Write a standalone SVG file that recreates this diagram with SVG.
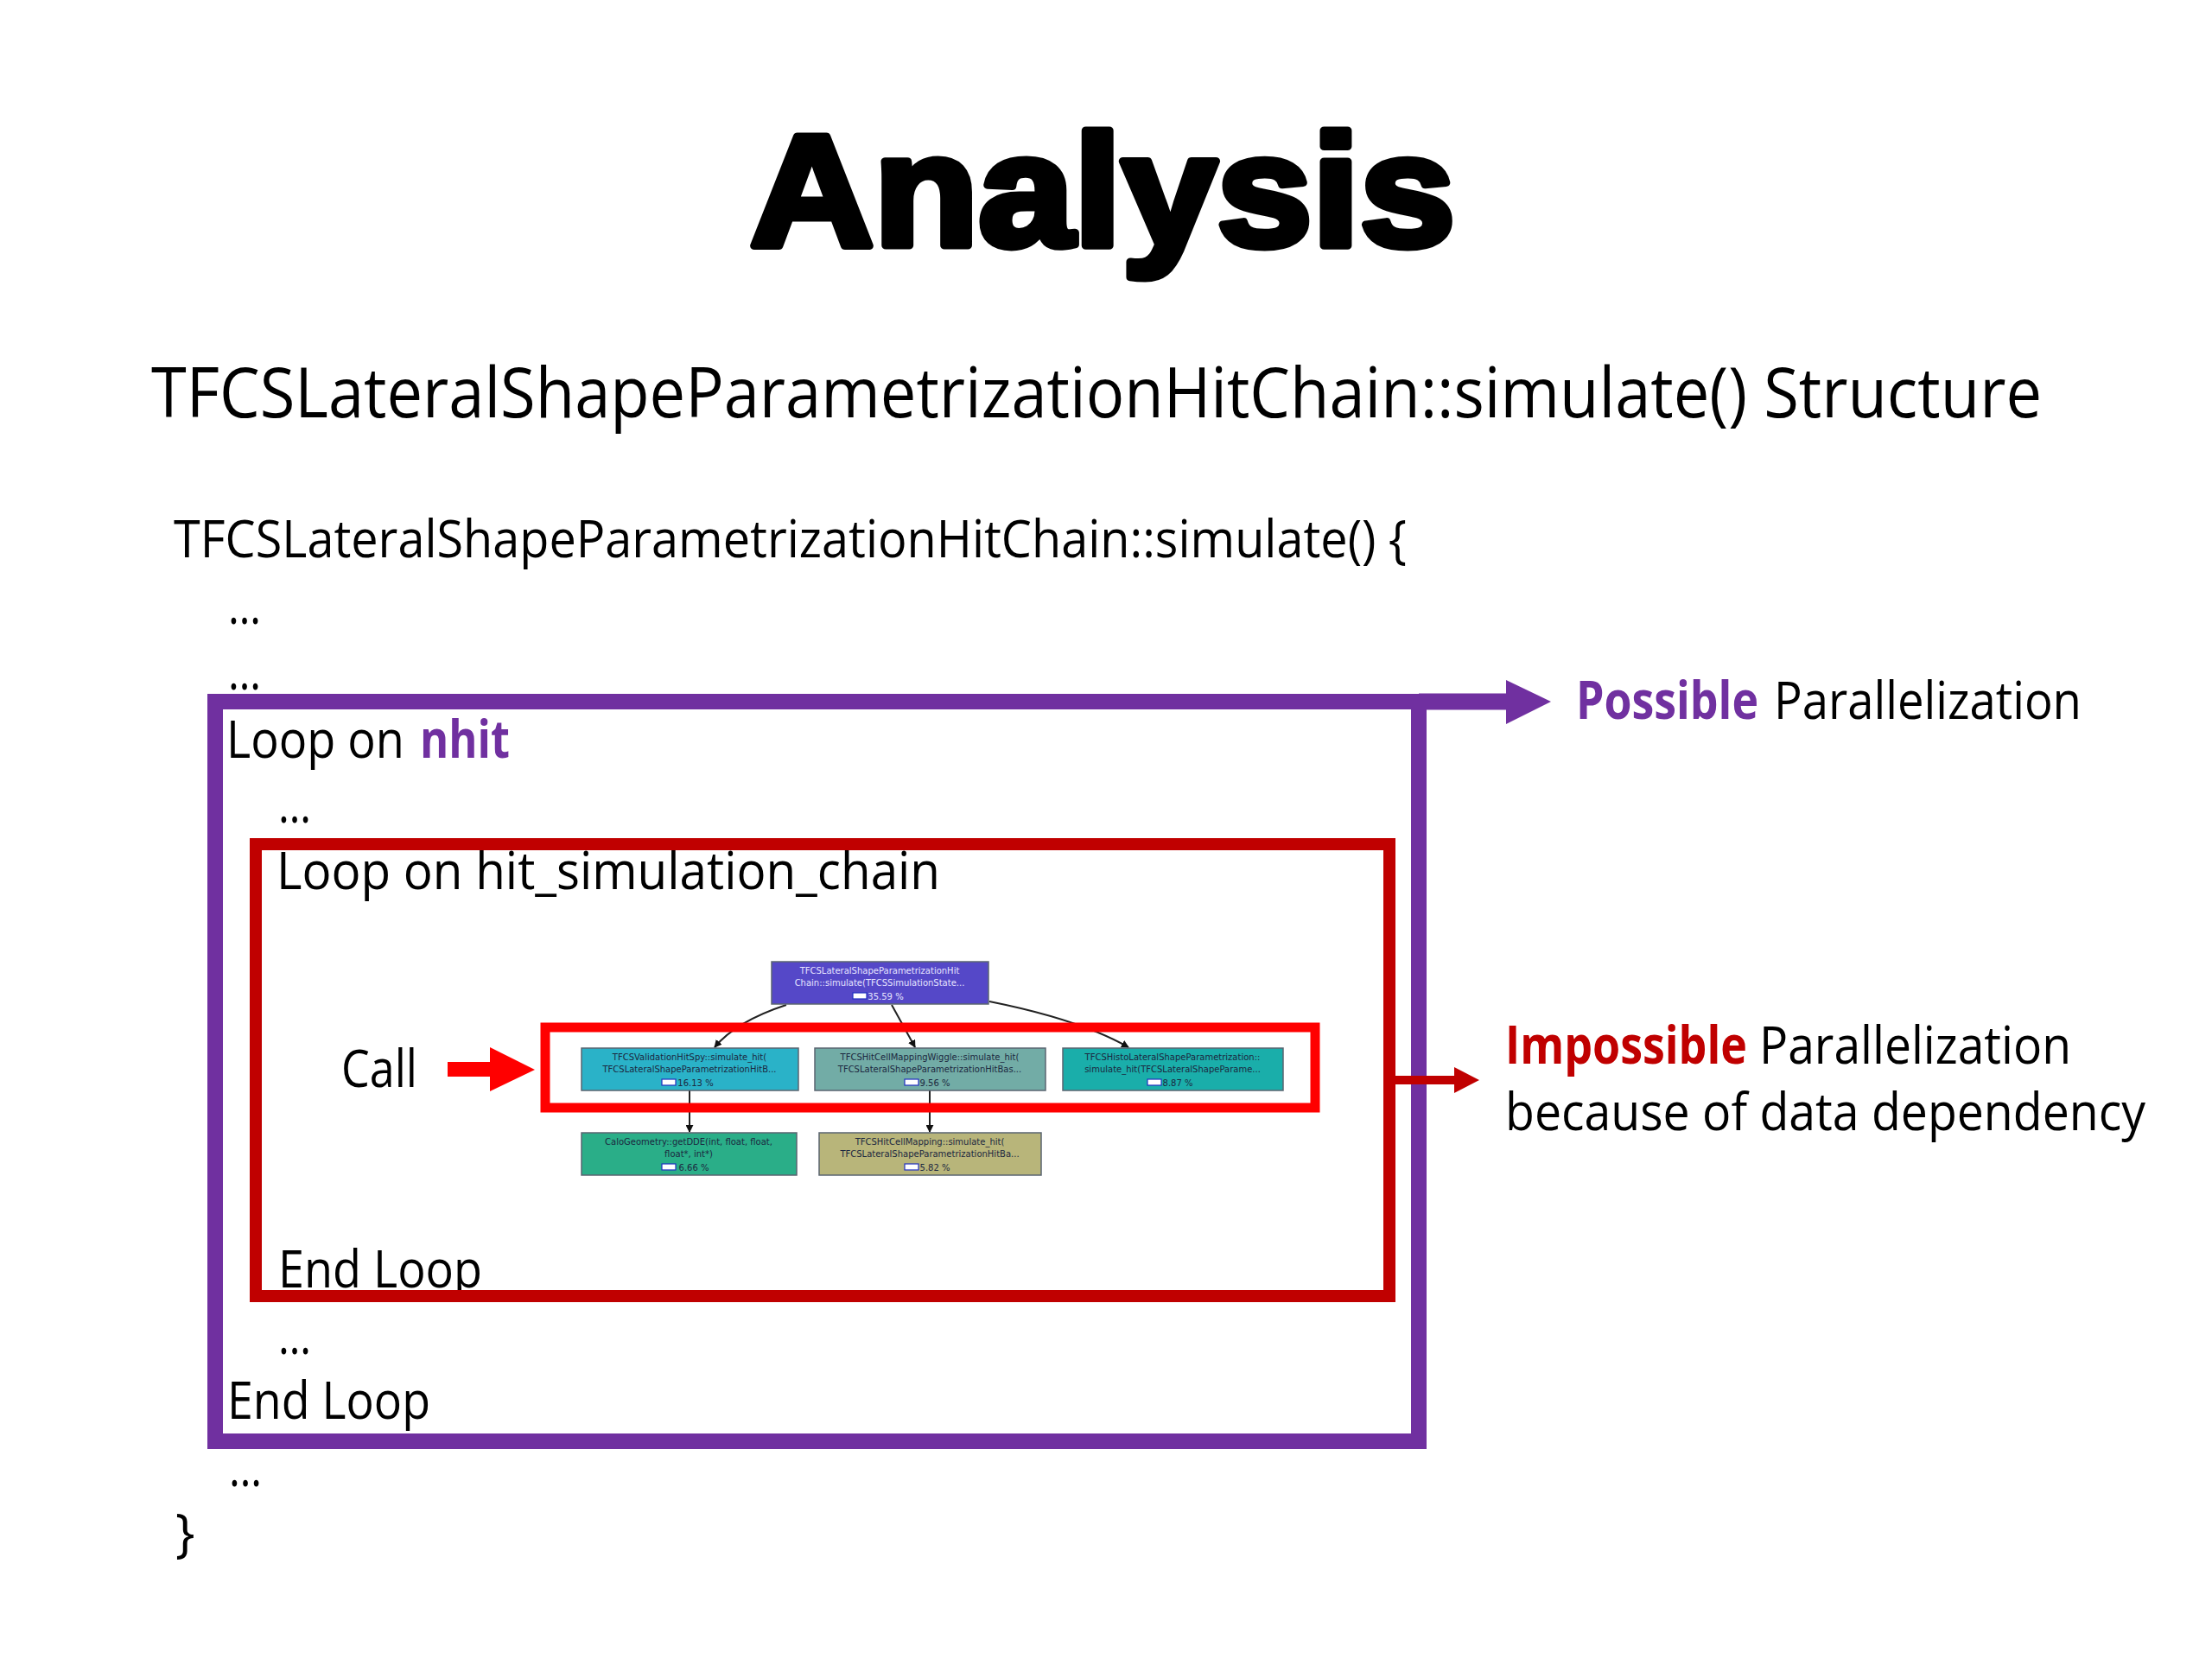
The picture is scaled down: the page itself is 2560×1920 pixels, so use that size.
<svg xmlns="http://www.w3.org/2000/svg" width="2560" height="1920" viewBox="0 0 2560 1920">
<defs>
<style>
.t{font-family:"Open Sans","Liberation Sans",sans-serif;font-size:60px;fill:#000}
.b{font-weight:bold}
.pu{fill:#7030a0}
.dr{fill:#c00000}
.n{font-family:"DejaVu Sans","Liberation Sans",sans-serif;font-size:10px;text-anchor:middle;fill:#1c2840}
.nw{fill:#e6e4ff}
.box{stroke:#5a6470;stroke-width:1.5}
.bar{fill:#fff;stroke:#2030c0;stroke-width:1.2}
.e{fill:none;stroke:#222;stroke-width:2}
</style>
<marker id="ah" viewBox="0 0 10 10" refX="9" refY="5" markerWidth="9" markerHeight="9" markerUnits="userSpaceOnUse" orient="auto">
<path d="M0,0 L10,5 L0,10 z" fill="#111"/>
</marker>
</defs>
<rect width="2560" height="1920" fill="#fff"/>

<text x="868" y="284" font-family="'Liberation Sans',Arial,sans-serif" font-weight="bold" font-size="184" stroke="#000" stroke-width="9" stroke-linejoin="round" textLength="816" lengthAdjust="spacingAndGlyphs">Analysis</text>
<text class="t" x="175" y="483" style="font-size:80px" textLength="2188" lengthAdjust="spacingAndGlyphs">TFCSLateralShapeParametrizationHitChain::simulate() Structure</text>

<g id="code">
<text class="t" x="201" y="645" textLength="1427" lengthAdjust="spacingAndGlyphs">TFCSLateralShapeParametrizationHitChain::simulate() {</text>
<text class="t" x="264" y="722" textLength="38" lengthAdjust="spacingAndGlyphs">…</text>
<text class="t" x="264" y="798" textLength="38" lengthAdjust="spacingAndGlyphs">…</text>
<text class="t" x="262" y="877" textLength="206" lengthAdjust="spacingAndGlyphs">Loop on</text>
<text class="t b pu" x="486" y="877" textLength="104" lengthAdjust="spacingAndGlyphs">nhit</text>
<text class="t" x="322" y="952" textLength="38" lengthAdjust="spacingAndGlyphs">…</text>
<text class="t" x="320" y="1029" textLength="768" lengthAdjust="spacingAndGlyphs">Loop on hit_simulation_chain</text>
<text class="t" x="395" y="1258" textLength="88" lengthAdjust="spacingAndGlyphs">Call</text>
<text class="t" x="322" y="1490" textLength="236" lengthAdjust="spacingAndGlyphs">End Loop</text>
<text class="t" x="322" y="1567" textLength="38" lengthAdjust="spacingAndGlyphs">…</text>
<text class="t" x="263" y="1642" textLength="235" lengthAdjust="spacingAndGlyphs">End Loop</text>
<text class="t" x="265" y="1720" textLength="38" lengthAdjust="spacingAndGlyphs">…</text>
<text class="t" x="203" y="1795">}</text>
</g>

<g id="loop-nhit">
<rect x="249" y="812" width="1393" height="856" fill="none" stroke="#7030a0" stroke-width="18"/>
</g>
<g id="loop-chain">
<rect x="296" y="977" width="1312" height="523" fill="none" stroke="#c00000" stroke-width="14"/>
</g>

<g id="connectors">
<line x1="1642" y1="812" x2="1750" y2="812" stroke="#7030a0" stroke-width="19"/>
<polygon points="1743,787 1795,812 1743,838" fill="#7030a0"/>
<line x1="1608" y1="1250" x2="1690" y2="1250" stroke="#c00000" stroke-width="10"/>
<polygon points="1683,1235 1712,1250 1683,1265" fill="#c00000"/>
<rect x="518" y="1229" width="52" height="17" fill="#ff0000"/>
<polygon points="567,1212 619,1238 567,1263" fill="#ff0000"/>
<path class="e" d="M910,1163 Q852,1182 827,1212" marker-end="url(#ah)"/>
<path class="e" d="M1032,1163 L1059,1212" marker-end="url(#ah)"/>
<path class="e" d="M1145,1159 Q1250,1180 1306,1212" marker-end="url(#ah)"/>
<path class="e" d="M798,1262 L798,1310" marker-end="url(#ah)"/>
<path class="e" d="M1076,1262 L1076,1310" marker-end="url(#ah)"/>
</g>

<g id="node-top">
<rect class="box" x="893" y="1113" width="251" height="49" fill="#5548c8"/>
<text class="n nw" x="1018" y="1127">TFCSLateralShapeParametrizationHit</text>
<text class="n nw" x="1018" y="1141">Chain::simulate(TFCSSimulationState...</text>
<rect class="bar" x="987" y="1149" width="16" height="7"/>
<text class="n nw" x="1025" y="1157">35.59 %</text>
</g>
<g id="node-validation">
<rect class="box" x="673" y="1213" width="251" height="49" fill="#2ab2c8"/>
<text class="n" x="798" y="1227">TFCSValidationHitSpy::simulate_hit(</text>
<text class="n" x="798" y="1241">TFCSLateralShapeParametrizationHitB...</text>
<rect class="bar" x="766" y="1249" width="16" height="7"/>
<text class="n" x="805" y="1257">16.13 %</text>
</g>
<g id="node-wiggle">
<rect class="box" x="943" y="1213" width="267" height="49" fill="#72aca6"/>
<text class="n" x="1076" y="1227">TFCSHitCellMappingWiggle::simulate_hit(</text>
<text class="n" x="1076" y="1241">TFCSLateralShapeParametrizationHitBas...</text>
<rect class="bar" x="1047" y="1249" width="16" height="7"/>
<text class="n" x="1082" y="1257">9.56 %</text>
</g>
<g id="node-histo">
<rect class="box" x="1230" y="1213" width="255" height="49" fill="#1aaeaa"/>
<text class="n" x="1357" y="1227">TFCSHistoLateralShapeParametrization::</text>
<text class="n" x="1357" y="1241">simulate_hit(TFCSLateralShapeParame...</text>
<rect class="bar" x="1328" y="1249" width="16" height="7"/>
<text class="n" x="1363" y="1257">8.87 %</text>
</g>
<g id="node-calogeo">
<rect class="box" x="673" y="1311" width="249" height="49" fill="#2aae88"/>
<text class="n" x="797" y="1325">CaloGeometry::getDDE(int, float, float,</text>
<text class="n" x="797" y="1339">float*, int*)</text>
<rect class="bar" x="766" y="1347" width="16" height="7"/>
<text class="n" x="803" y="1355">6.66 %</text>
</g>
<g id="node-mapping">
<rect class="box" x="948" y="1311" width="257" height="49" fill="#b8b57a"/>
<text class="n" x="1076" y="1325">TFCSHitCellMapping::simulate_hit(</text>
<text class="n" x="1076" y="1339">TFCSLateralShapeParametrizationHitBa...</text>
<rect class="bar" x="1047" y="1347" width="16" height="7"/>
<text class="n" x="1082" y="1355">5.82 %</text>
</g>

<g id="call-group">
<rect x="631" y="1189" width="891" height="93" fill="none" stroke="#ff0000" stroke-width="11"/>
</g>

<g id="labels">
<text class="t b pu" x="1824" y="832" textLength="211" lengthAdjust="spacingAndGlyphs">Possible</text>
<text class="t" x="2053" y="832" textLength="356" lengthAdjust="spacingAndGlyphs">Parallelization</text>
<text class="t b dr" x="1742" y="1231" textLength="280" lengthAdjust="spacingAndGlyphs">Impossible</text>
<text class="t" x="2036" y="1231" textLength="361" lengthAdjust="spacingAndGlyphs">Parallelization</text>
<text class="t" x="1742" y="1308" textLength="741" lengthAdjust="spacingAndGlyphs">because of data dependency</text>
</g>
</svg>
